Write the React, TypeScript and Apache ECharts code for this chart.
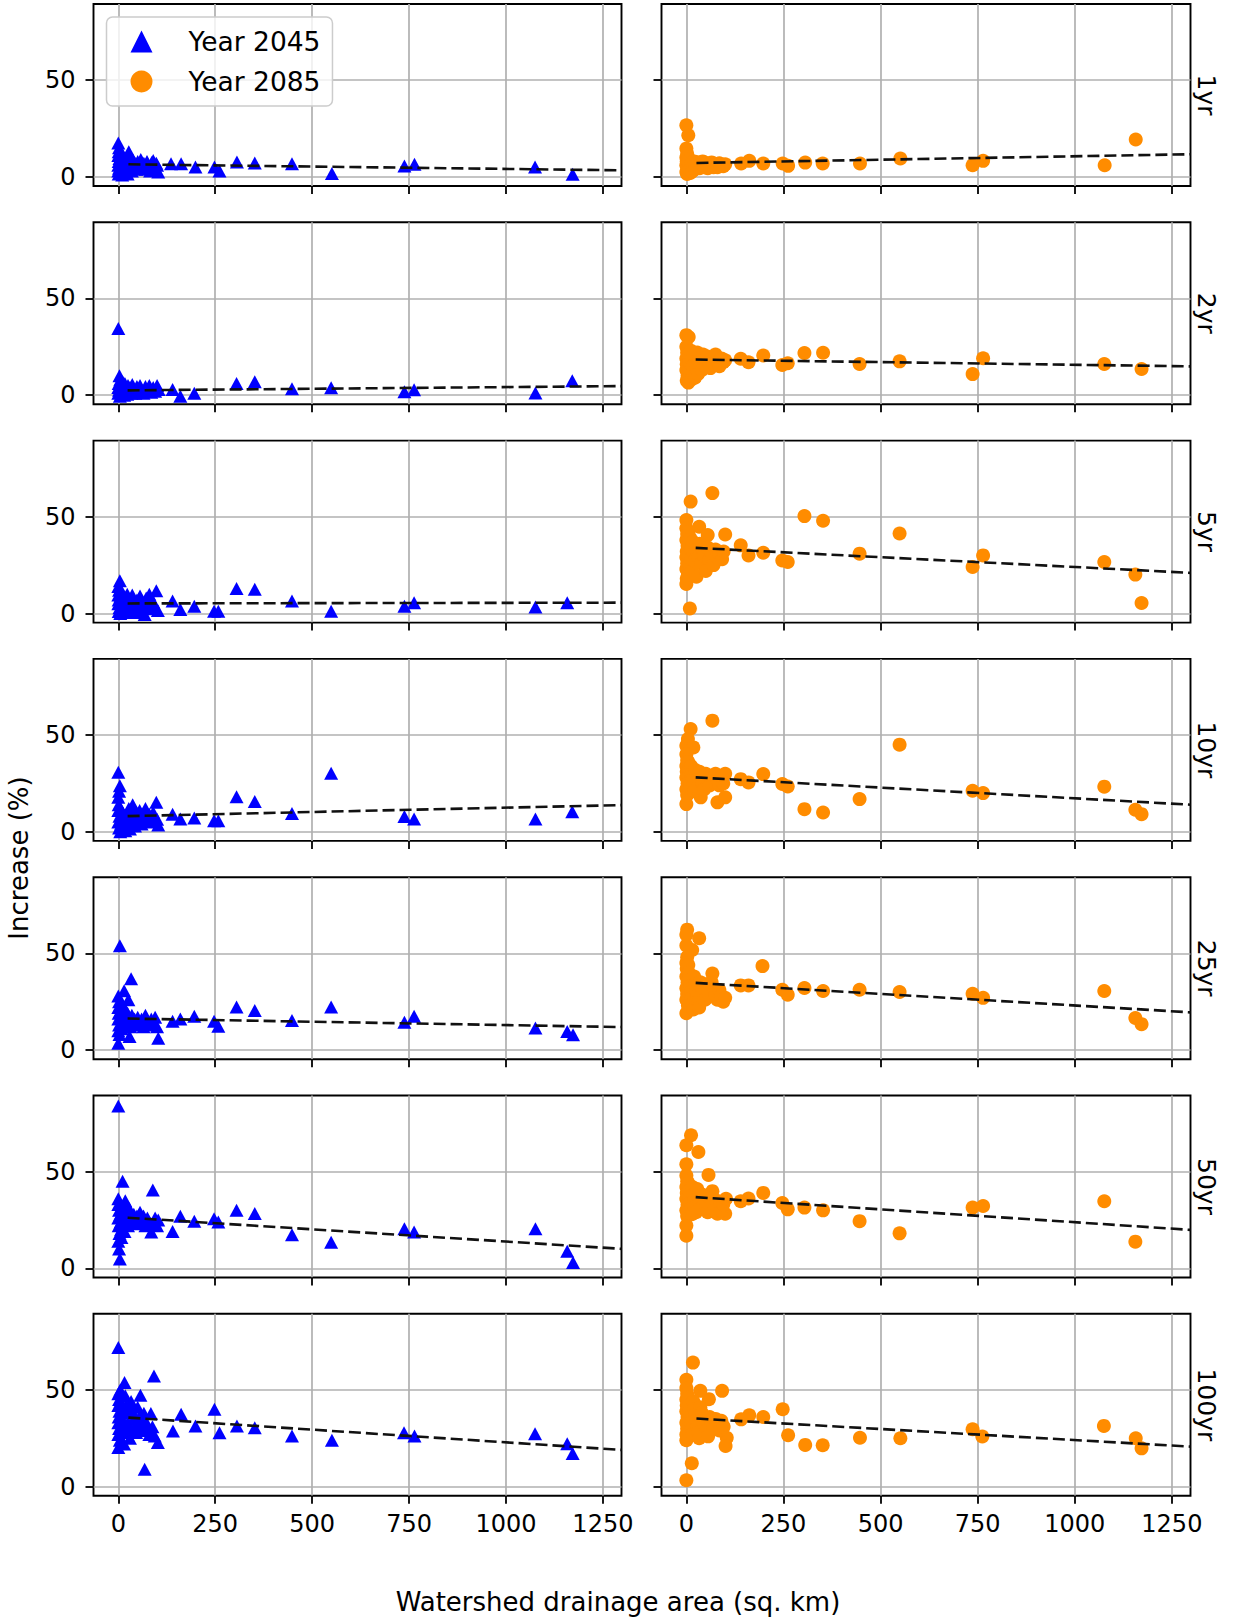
import React, { useEffect, useRef } from 'react';
import * as echarts from 'echarts';

// ---------------- data ----------------
const PERIODS = ['1yr', '2yr', '5yr', '10yr', '25yr', '50yr', '100yr'];
const X_TICKS = [0, 250, 500, 750, 1000, 1250];
const Y_TICKS = [0, 50];
const X_MIN = -64;
const X_MAX = 1298;
const Y_MIN = -4.7;
const Y_MAX = 89.3;
const SERIES_NAMES = ['Year 2045', 'Year 2085'];

// Year 2045 (blue triangles): [drainage area, increase %]
const y2045_1yr = [[0,17.5],[2,15],[1,13],[0,11],[3,9.5],[1,8],[0,6],[2,4.5],[0,3],[1,1.5],[4,2],[5,5],[6,7],[7,10],[8,12],[9,3],[10,1],[11,6],[12,8.5],[14,4],[15,2],[16,6.5],[18,9],[19,3],[20,5],[22,7],[24,1.5],[26,11],[27,13],[28,4],[30,8],[32,6],[35,3],[37,9],[40,5],[43,7],[46,4],[50,8],[54,6],[58,9],[62,5],[66,7],[70,4],[74,8],[78,6],[82,3],[86,7.5],[90,8.5],[94,5],[98,7],[100,6],[103,2.5],
  [136,6.8],[162,6.8],[199,5.1],[248,5.1],[261,3.1],[306,7.7],[352,7.2],[448,6.8],[551,1.7],[738,5.6],[764,6.5],[1075,5.1],[1172,1.4]];
const y2045_2yr = [[0,34.5],[3,10],[5,8],[1,6],[0,4],[2,2.5],[0,1],[4,-0.5],[6,5],[8,3],[9,1],[11,7],[12,2],[14,4],[15,0],[17,6],[19,1.5],[21,3.5],[23,0.5],[25,5],[27,2],[30,4],[33,1],[36,5.5],[40,3],[44,1],[48,4.5],[52,2],[56,5],[60,3],[65,1],[70,4.5],[75,2.5],[80,5],[85,1.5],[90,4],[95,2],[100,5],[104,3],
  [140,3],[160,-0.5],[196,1],[305,6.1],[352,7],[448,3.3],[549,3.9],[738,1.8],[763,2.8],[1076,1.2],[1171,7.4]];
const y2045_5yr = [[4,16.9],[0,14],[2,12],[0,9.5],[1,7],[0,5],[3,3],[1,1],[5,0],[6,9],[7,5.5],[9,2],[10,11],[12,7],[13,0.5],[15,4],[17,8.5],[19,2.5],[21,6],[23,10],[25,1],[27,4.5],[30,7.5],[33,2],[36,9.5],[40,5],[44,0.5],[48,7],[52,3.5],[56,9],[60,2],[64,5.5],[68,-0.5],[72,8],[76,4],[80,10],[85,2.5],[90,6],[95,3],[98,11.7],[102,1.5],
  [140,6.4],[160,2.1],[196,3.8],[247,1.2],[258,1.2],[305,12.9],[352,12.5],[448,6.4],[549,1.2],[738,3.8],[763,5.6],[1076,3.3],[1158,5.6]];
const y2045_10yr = [[0,30.7],[4,23.8],[0,17.8],[2,21],[1,14],[0,11],[3,8],[0,5],[2,2],[5,0],[6,12],[7,4],[8,7],[10,1],[11,10],[12,5.5],[14,2.5],[16,8],[18,0.5],[20,6],[22,3],[25,9],[27,12],[30,1.5],[33,5],[37,14],[40,8],[43,3],[47,10],[50,6],[55,11],[60,4],[65,8],[70,12],[75,6],[80,9],[85,5],[90,10],[95,7],[98,15.2],[100,6.5],[103,3.5],
  [140,9.1],[160,6.6],[196,7.1],[247,5.7],[258,5.7],[305,18.1],[352,15.7],[448,9.5],[549,30.2],[738,7.9],[763,6.6],[1076,6.6],[1171,10.3]];
const y2045_25yr = [[4,53.9],[0,28],[2,25],[15,30.7],[33,36.8],[0,3.5],[29,7],[103,6.1],[0,22],[1,19],[0,16],[2,13],[0,10],[3,8],[5,20],[6,17],[7,14],[9,11],[10,23],[12,18],[14,15],[16,12],[18,21],[20,16],[22,13],[24,19],[26,26],[28,15],[31,12],[35,18],[38,14],[42,16],[46,13],[50,17],[55,14],[60,16],[65,12],[70,18],[75,15],[80,13],[85,16],[90,14],[95,17],[100,12],
  [140,14.9],[160,16.1],[196,17.5],[247,14.9],[258,12.3],[305,22.3],[352,20.5],[448,15.3],[549,22.3],[738,14.4],[763,17.5],[1076,11.4],[1158,9.6],[1173,7.9]];
const y2045_50yr = [[0,83.9],[11,45],[89,40.5],[0,36],[4,4.9],[2,10],[0,14],[3,18],[1,22],[0,26],[2,30],[0,33],[5,28],[6,24],[7,20],[8,16],[10,32],[12,27],[14,23],[16,19],[18,35],[20,29],[22,25],[25,22],[28,31],[30,27],[33,24],[36,26],[40,28],[44,23],[48,27],[52,25],[56,29],[60,24],[65,27],[70,22],[75,26],[80,24],[85,18.8],[90,23],[95,26],[100,22],[103,25],
  [140,19.1],[160,26.9],[196,24.3],[247,25.7],[258,24],[305,30],[352,28.3],[448,17.4],[549,13.5],[738,20.5],[763,18.8],[1076,20.5],[1158,8.9],[1173,3.1]];
const y2045_100yr = [[0,71.9],[92,57.2],[16,53.8],[57,47.2],[84,37.8],[68,9],[0,20.2],[0,48],[2,45],[0,42],[3,39],[1,36],[0,33],[2,30],[0,27],[4,24],[5,50],[6,44],[8,40],[10,35],[12,31],[13,28],[15,22],[18,47],[20,42],[22,38],[25,33],[27,29],[30,25],[33,44],[36,39],[40,35],[43,31],[46,28],[50,41],[54,36],[58,32],[62,29],[66,38],[70,34],[75,30],[80,27],[88,31],[94,26.2],[102,22.8],
  [141,28.8],[162,37.4],[199,31.4],[248,40],[261,27.9],[306,31.4],[352,30.5],[448,26.2],[551,24],[737,27.9],[764,26.2],[1075,27.4],[1158,22.2],[1172,17.1]];

// Year 2085 (orange circles)
const y2085_1yr = [[0,26.7],[5,21.5],[0,14.7],[2,12],[0,10],[1,8],[0,6],[3,4],[0,2.5],[2,1.5],[4,7],[5,5],[6,3],[8,9],[9,6],[10,2],[12,4.5],[14,7.5],[16,3],[18,5.5],[20,8],[22,4],[25,6],[28,5],[30,7.5],[34,4.5],[38,6.5],[42,8],[46,5],[50,7],[55,4.5],[60,6],[65,7.5],[70,5],[75,6.5],[80,5],[85,7],[90,6],[95,5.5],[100,6.5],
  [141,6.9],[162,8.3],[198,6.9],[248,6.9],[262,5.7],[306,7.4],[351,6.9],[447,6.9],[551,9.5],[737,6],[764,8.3],[1077,6],[1157,19.3]];
const y2085_2yr = [[0,31],[6,30],[0,25],[2,22],[0,19],[1,16],[0,13],[3,10],[1,7.5],[5,6.5],[6,14],[7,20],[8,17],[10,11],[11,23],[12,8],[14,18],[16,15],[18,12],[20,21],[22,9],[24,17],[26,14],[28,22],[30,11],[33,19],[36,16],[40,13],[43,21],[46,18],[50,15],[54,20],[58,17],[62,14],[66,19],[70,16],[75,21],[80,18],[85,15],[90,19],[95,17],[100,18],
  [140,18.8],[160,17],[198,20.5],[247,15.6],[261,16.5],[304,21.8],[352,21.9],[446,16.1],[549,17.5],[737,10.9],[764,19.1],[1076,16.1],[1172,13.5]];
const y2085_5yr = [[0,48.3],[11,57.8],[67,62.2],[9,2.6],[0,15.3],[33,44.8],[55,40.5],[100,40.8],[0,44],[2,41],[0,38],[3,35],[1,32],[0,29],[2,26],[0,23],[4,20],[1,18],[5,42],[6,36],[7,30],[8,25],[10,39],[12,33],[13,28],[15,22],[17,37],[19,31],[21,27],[24,35],[26,19],[28,32],[31,29],[35,36],[38,26],[42,33],[45,30],[50,22],[55,34],[60,28],[65,31],[70,25],[75,33],[80,29],[85,31],[92,28],[96,32],
  [140,35.2],[160,30],[198,31.4],[247,27.4],[261,26.6],[304,50.3],[352,47.9],[446,30.9],[549,41.3],[737,24],[764,30],[1076,26.6],[1156,20.1],[1172,5.4]];
const y2085_10yr = [[67,57.4],[11,53.1],[4,47.9],[0,44.5],[18,43.6],[0,14.3],[80,15.2],[100,17.8],[37,17.8],[0,40],[2,37],[0,34],[1,31],[0,28],[3,25],[0,22],[2,19],[5,36],[6,32],[7,29],[8,26],[10,23],[12,34],[14,30],[16,27],[18,24],[20,21],[22,32],[25,29],[28,26],[30,23],[34,31],[38,28],[42,25],[46,22],[50,30],[55,27],[60,24],[65,29],[70,26],[75,30],[80,27],[85,24],[90,28],[95,25],[100,30],
  [140,27.2],[160,25.5],[198,29.8],[247,24.7],[261,23.4],[304,11.7],[352,10],[446,16.9],[549,45],[737,21.2],[764,20],[1076,23.3],[1156,11.4],[1172,9.1]];
const y2085_25yr = [[2,62.2],[0,59.6],[33,57.8],[0,19],[15,51.7],[67,39.5],[0,54],[2,48],[0,45],[1,42],[0,38],[3,35],[0,32],[2,29],[0,26],[4,23],[5,44],[6,40],[8,36],[10,33],[12,30],[14,27],[16,24],[18,21],[20,38],[22,34],[25,31],[28,28],[30,25],[33,22],[36,35],[40,32],[44,29],[48,26],[52,34],[56,31],[60,28],[65,35],[70,32],[75,29],[80,26],[85,31],[90,28],[95,25],[100,27],
  [140,33.4],[160,33.4],[196,43.4],[247,31.2],[261,28.6],[304,32.1],[352,30.5],[446,31.2],[549,30],[737,29.1],[764,27],[1076,30.5],[1156,16.6],[1172,13.4]];
const y2085_50yr = [[12,68.8],[0,63.6],[31,60.1],[0,53.8],[57,48.3],[0,22.1],[0,16.9],[67,39.9],[80,28.2],[100,28.2],[0,48],[2,45],[0,42],[1,39],[0,36],[3,33],[0,30],[2,27],[5,44],[6,40],[8,37],[10,34],[12,31],[14,28],[16,42],[18,38],[20,35],[22,32],[25,29],[28,41],[30,37],[34,34],[38,31],[42,38],[46,35],[50,32],[55,29],[60,36],[65,33],[72,30],[78,35],[85,32],[90,30],[95,33],[102,36],
  [140,34.7],[160,36.1],[198,39],[247,33.8],[261,30.5],[304,31.4],[352,30],[446,24.4],[549,18.1],[737,31.4],[764,32.2],[1076,34.7],[1156,13.8]];
const y2085_100yr = [[17,64.1],[0,55.2],[0,3.3],[14,12.1],[92,49.5],[58,45.2],[36,49.5],[0,24],[104,25.3],[101,21],[0,51],[2,48],[0,45],[1,42],[0,39],[3,36],[0,33],[2,30],[0,27],[5,46],[6,42],[8,39],[10,36],[12,33],[14,30],[16,27],[18,44],[20,40],[22,37],[25,34],[28,31],[30,28],[33,25],[36,41],[40,38],[44,35],[48,32],[52,29],[56,26],[60,36],[65,33],[70,30],[75,35],[80,32],[85,29],[90,34],[96,31],
  [141,34.8],[162,36.9],[198,36],[248,40],[262,26.6],[306,21.6],[351,21.4],[447,25.3],[551,25],[737,29.7],[762,25.9],[1075,31.4],[1157,25],[1172,19.8]];

// Trend lines (start and end points)
const trend2045 = [
  [[26, 6.5], [1298, 3.4]],
  [[24, 2.5], [1298, 4.7]],
  [[24, 5.2], [1298, 5.6]],
  [[24, 8.1], [1298, 13.8]],
  [[24, 16.3], [1298, 11.9]],
  [[24, 26.2], [1298, 10.1]],
  [[26, 35.7], [1298, 19.0]],
];
const trend2085 = [
  [[26, 7.2], [1298, 11.7]],
  [[24, 18.4], [1298, 14.9]],
  [[24, 33.9], [1298, 21.0]],
  [[24, 28.1], [1298, 14.0]],
  [[24, 34.7], [1298, 19.5]],
  [[24, 36.8], [1298, 19.9]],
  [[26, 35.2], [1298, 20.7]],
];

const data2045 = [y2045_1yr, y2045_2yr, y2045_5yr, y2045_10yr, y2045_25yr, y2045_50yr, y2045_100yr];
const data2085 = [y2085_1yr, y2085_2yr, y2085_5yr, y2085_10yr, y2085_25yr, y2085_50yr, y2085_100yr];

// ---------------- layout ----------------
const FONT = 'DejaVu Sans';
const COL_LEFT = [93.5, 661.5];
const COL_WIDTH = [528, 529];
const ROW_TOP0 = 4;
const ROW_STEP = 218.3;
const PANEL_H = 182;
const BLUE = '#0000ff';
const ORANGE = '#ff8c00';
const TICK_FONT = 24;
const LABEL_FONT = 26;

function buildOption() {
  const grid: any[] = [];
  const xAxis: any[] = [];
  const yAxis: any[] = [];
  const series: any[] = [];
  const graphic: any[] = [];

  for (let r = 0; r < PERIODS.length; r++) {
    for (let c = 0; c < 2; c++) {
      const i = r * 2 + c;
      grid.push({
        left: COL_LEFT[c],
        top: ROW_TOP0 + ROW_STEP * r,
        width: COL_WIDTH[c],
        height: PANEL_H,
        show: true,
        borderColor: '#000',
        borderWidth: 1.9,
        backgroundColor: 'transparent',
        containLabel: false,
        outerBoundsMode: 'none',
      });
      xAxis.push({
        gridIndex: i,
        type: 'value',
        min: X_MIN,
        max: X_MAX,
        axisLine: { show: false, onZero: false },
        axisTick: {
          show: true,
          inside: false,
          length: 8,
          customValues: X_TICKS,
          lineStyle: { color: '#000', width: 1.8 },
        },
        axisLabel: {
          show: r === PERIODS.length - 1,
          customValues: X_TICKS,
          formatter: (v: number) => String(v),
          margin: 16,
          fontSize: TICK_FONT,
          fontFamily: FONT,
          color: '#000',
        },
        splitLine: { show: true, lineStyle: { color: '#b0b0b0', width: 1.7 } },
      });
      yAxis.push({
        gridIndex: i,
        type: 'value',
        min: Y_MIN,
        max: Y_MAX,
        axisLine: { show: false, onZero: false },
        axisTick: {
          show: true,
          inside: false,
          length: 8,
          customValues: Y_TICKS,
          lineStyle: { color: '#000', width: 1.8 },
        },
        axisLabel: {
          show: c === 0,
          customValues: Y_TICKS,
          formatter: (v: number) => String(v),
          margin: 18,
          fontSize: TICK_FONT,
          fontFamily: FONT,
          color: '#000',
        },
        splitLine: { show: true, lineStyle: { color: '#b0b0b0', width: 1.7 } },
      });
      const pts = c === 0 ? data2045[r] : data2085[r];
      series.push({
        type: 'scatter',
        name: SERIES_NAMES[c],
        xAxisIndex: i,
        yAxisIndex: i,
        data: pts,
        symbol: c === 0 ? 'triangle' : 'circle',
        symbolSize: c === 0 ? [14, 13] : 14,
        itemStyle: { color: c === 0 ? BLUE : ORANGE, opacity: 1 },
        silent: true,
        z: 2,
      });
      const tr = c === 0 ? trend2045[r] : trend2085[r];
      series.push({
        type: 'line',
        name: 'trend',
        xAxisIndex: i,
        yAxisIndex: i,
        data: tr,
        symbol: 'none',
        lineStyle: { color: '#111', width: 2.6, type: [12, 5] },
        silent: true,
        z: 3,
      });
    }
    graphic.push({
      type: 'text',
      x: 1206,
      y: ROW_TOP0 + ROW_STEP * r + PANEL_H / 2,
      rotation: -Math.PI / 2,
      style: {
        text: PERIODS[r],
        fontSize: 25,
        fontFamily: FONT,
        fill: '#000',
        align: 'center',
        verticalAlign: 'middle',
      },
    });
  }

  graphic.push({
    type: 'text',
    x: 18.5,
    y: 858,
    rotation: Math.PI / 2,
    style: {
      text: 'Increase (%)',
      fontSize: LABEL_FONT,
      fontFamily: FONT,
      fill: '#000',
      align: 'center',
      verticalAlign: 'middle',
    },
  });
  graphic.push({
    type: 'text',
    x: 618,
    y: 1602,
    style: {
      text: 'Watershed drainage area (sq. km)',
      fontSize: LABEL_FONT,
      fontFamily: FONT,
      fill: '#000',
      align: 'center',
      verticalAlign: 'middle',
    },
  });

  return {
    animation: false,
    backgroundColor: '#fff',
    grid,
    xAxis,
    yAxis,
    series,
    graphic,
    legend: {
      data: [
        { name: SERIES_NAMES[0], icon: 'triangle' },
        { name: SERIES_NAMES[1], icon: 'circle' },
      ],
      orient: 'vertical',
      left: 106.5,
      top: 17,
      itemWidth: 22,
      itemHeight: 22,
      itemGap: 13,
      padding: [11, 12, 11, 24],
      selectedMode: false,
      backgroundColor: 'rgba(255,255,255,0.8)',
      borderColor: '#cccccc',
      borderWidth: 1.5,
      borderRadius: 6,
      textStyle: {
        fontSize: 26.5,
        fontFamily: FONT,
        color: '#000',
        padding: [0, 0, 0, 31],
      },
    },
  };
}

export default function App() {
  const ref = useRef<HTMLDivElement>(null);
  useEffect(() => {
    if (!ref.current) return;
    const chart = echarts.init(ref.current, undefined, { renderer: 'svg' });
    chart.setOption(buildOption() as any);
    return () => chart.dispose();
  }, []);
  return (
    <div
      ref={ref}
      style={{ position: 'absolute', left: 0, top: 0, width: 1234, height: 1621, background: '#fff' }}
    />
  );
}
